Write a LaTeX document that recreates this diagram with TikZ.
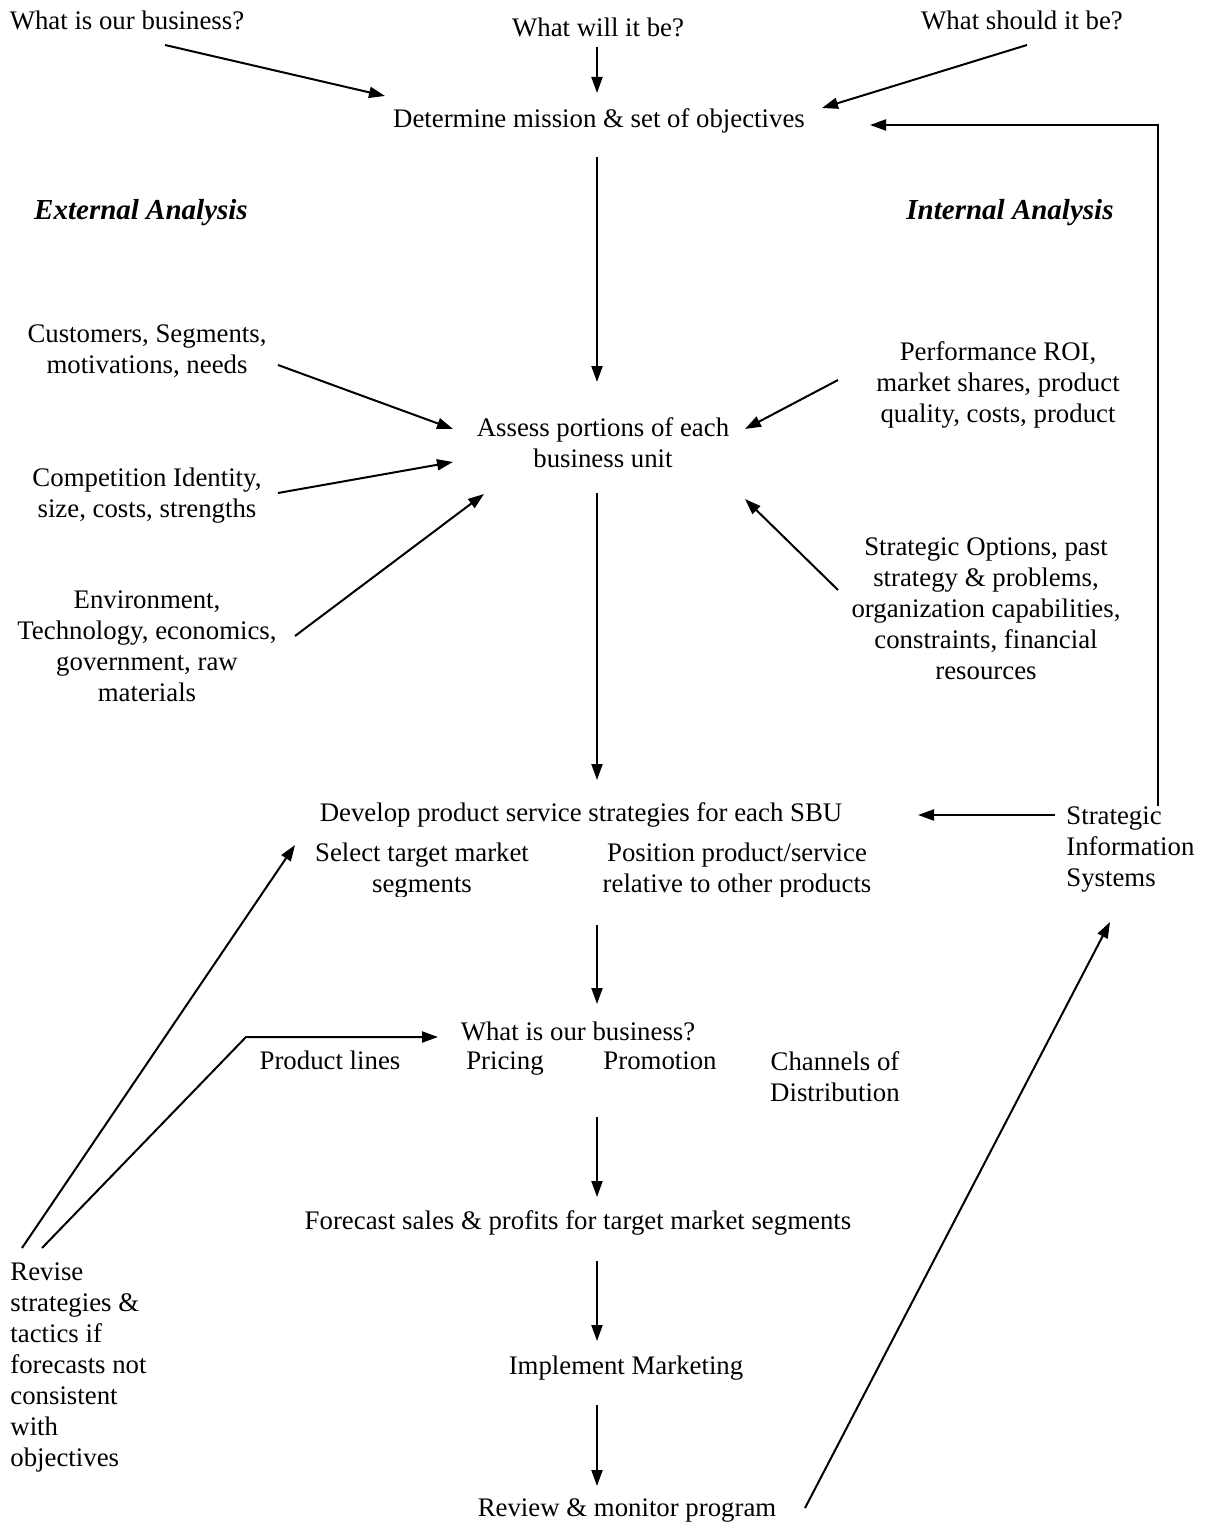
\documentclass[tikz,border=0pt]{standalone}
\usepackage{fontspec}
\setmainfont{Liberation Serif}
\usetikzlibrary{arrows.meta}
\begin{document}
\begin{tikzpicture}[x=0.5pt,y=-0.5pt,
  txt/.style={inner sep=0pt, align=center, font=\fontsize{13.4}{15.5}\selectfont},
  btxt/.style={inner sep=0pt, anchor=base, font=\fontsize{13.4}{15.5}\selectfont},
  ltxt/.style={inner sep=0pt, align=left, anchor=north west, font=\fontsize{13.4}{15.5}\selectfont},
  head/.style={inner sep=0pt, font=\fontsize{14.5}{16}\selectfont\bfseries\itshape},
  arr/.style={line width=1pt, -{Triangle[length=8pt,width=5.5pt]}},
  ln/.style={line width=1pt}]
\useasboundingbox[fill=white] (0,0) rectangle (1207,1524);

% texts
\node[txt] (q1) at (127,20) {What is our business?};
\node[txt] (q2) at (598,27) {What will it be?};
\node[txt] (q3) at (1022,20) {What should it be?};
\node[txt] (mission) at (599,121) {Determine mission \& set of objectives};
\node[head] (ext) at (141,213) {External Analysis};
\node[head] (int) at (1010,213) {Internal Analysis};
\node[txt] (cust) at (147,351) {Customers, Segments,\\motivations, needs};
\node[txt] (perf) at (998,385) {Performance ROI,\\market shares, product\\quality, costs, product};
\node[txt] (assess) at (603,443) {Assess portions of each\\business unit};
\node[txt] (comp) at (147,496) {Competition Identity,\\size, costs, strengths};
\node[txt] (opts) at (986,609) {Strategic Options, past\\strategy \& problems,\\organization capabilities,\\constraints, financial\\resources};
\node[txt] (env) at (147,646) {Environment,\\Technology, economics,\\government, raw\\materials};
\node[txt] (develop) at (581,815) {Develop product service strategies for each SBU};
\node[ltxt] (sis) at (1066,806) {Strategic\\Information\\Systems};
\begin{scope}
\clip (0,835) rectangle (1207,896);
\node[txt] (select) at (422,871) {Select target market\\segments};
\node[txt] (position) at (737,871) {Position product/service\\relative to other products};
\end{scope}
\node[txt] (biz) at (578,1031) {What is our business?};
\node[btxt] (prod) at (330,1069) {Product lines};
\node[btxt] (price) at (505,1069) {Pricing};
\node[btxt] (promo) at (660,1069) {Promotion};
\node[txt] (chan) at (835,1077) {Channels of\\Distribution};
\node[txt] (forecast) at (578,1223) {Forecast sales \& profits for target market segments};
\node[txt] (impl) at (626,1368) {Implement Marketing};
\node[txt] (review) at (627,1510) {Review \& monitor program};
\node[ltxt] (revise) at (10,1262) {Revise\\strategies \&\\tactics if\\forecasts not\\consistent\\with\\objectives};

% connector end points
\coordinate (a1s) at (165,45);   \coordinate (a1e) at (385,96);
\coordinate (a2s) at (597,47);   \coordinate (a2e) at (597,93);
\coordinate (a3s) at (1027,45);  \coordinate (a3e) at (822,108);
\coordinate (m1s) at (597,157);  \coordinate (m1e) at (597,382);
\coordinate (c1s) at (278,365);  \coordinate (c1e) at (453,429);
\coordinate (c2s) at (278,493);  \coordinate (c2e) at (453,462);
\coordinate (c3s) at (295,636);  \coordinate (c3e) at (484,494);
\coordinate (p1s) at (838,380);  \coordinate (p1e) at (745,429);
\coordinate (p2s) at (838,590);  \coordinate (p2e) at (745,499);
\coordinate (m2s) at (597,493);  \coordinate (m2e) at (597,780);
\coordinate (s1s) at (1055,815); \coordinate (s1e) at (918,815);
\coordinate (s2s) at (1158,806); \coordinate (s2c) at (1158,125); \coordinate (s2e) at (870,125);
\coordinate (m3s) at (597,925);  \coordinate (m3e) at (597,1004);
\coordinate (m4s) at (597,1117); \coordinate (m4e) at (597,1197);
\coordinate (m5s) at (597,1261); \coordinate (m5e) at (597,1341);
\coordinate (m6s) at (597,1405); \coordinate (m6e) at (597,1486);
\coordinate (r1s) at (22,1248);  \coordinate (r1e) at (295,845);
\coordinate (r2s) at (42,1248);  \coordinate (r2c) at (246,1037); \coordinate (r2e) at (438,1037);
\coordinate (v1s) at (805,1508); \coordinate (v1e) at (1110,922);

% connectors
\draw[arr] (a1s) -- (a1e);
\draw[arr] (a2s) -- (a2e);
\draw[arr] (a3s) -- (a3e);
\draw[arr] (m1s) -- (m1e);
\draw[arr] (c1s) -- (c1e);
\draw[arr] (c2s) -- (c2e);
\draw[arr] (c3s) -- (c3e);
\draw[arr] (p1s) -- (p1e);
\draw[arr] (p2s) -- (p2e);
\draw[arr] (m2s) -- (m2e);
\draw[arr] (s1s) -- (s1e);
\draw[arr] (s2s) -- (s2c) -- (s2e);
\draw[arr] (m3s) -- (m3e);
\draw[arr] (m4s) -- (m4e);
\draw[arr] (m5s) -- (m5e);
\draw[arr] (m6s) -- (m6e);
\draw[arr] (r1s) -- (r1e);
\draw[arr] (r2s) -- (r2c) -- (r2e);
\draw[arr] (v1s) -- (v1e);
\end{tikzpicture}
\end{document}
